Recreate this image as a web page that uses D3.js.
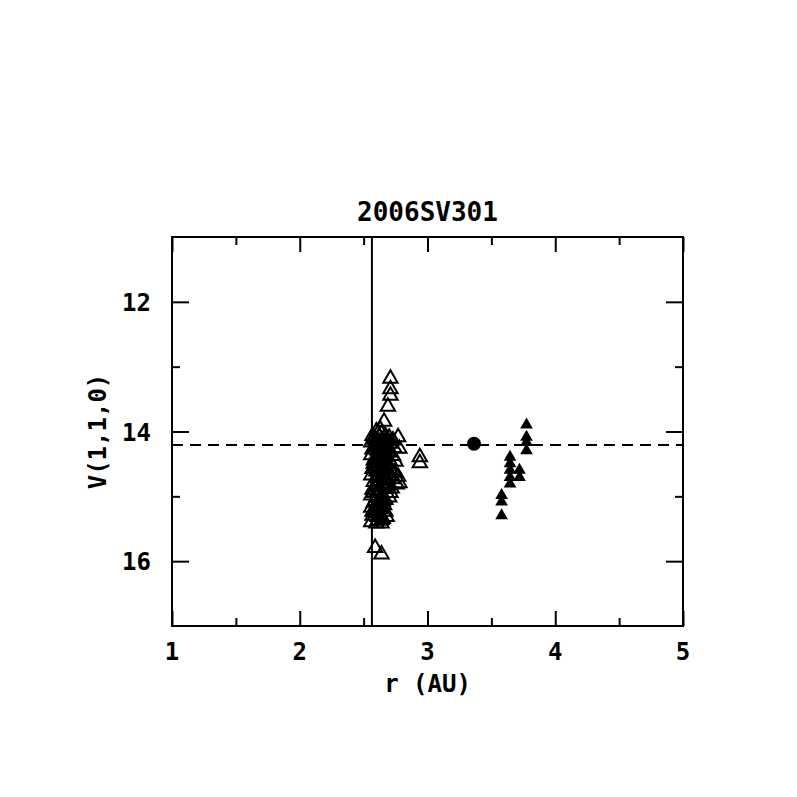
<!DOCTYPE html>
<html>
<head>
<meta charset="utf-8">
<script src="https://cdn.jsdelivr.net/npm/d3@7"></script>
<style>
  body { margin: 0; background: #fff; }
  svg text { font-family: "DejaVu Sans Mono", monospace; fill: #000; font-weight: bold; }
  .frame { fill: none; stroke: #000; stroke-width: 2; }
  .tick line { stroke: #000; stroke-width: 2; }
  .domain { display: none; }
</style>
</head>
<body>
<svg id="chart" width="797" height="797"></svg>
<script>
// data
var titleText = '2006SV301'
var xLabel = 'r (AU)'
var yLabel = 'V(1,1,0)'
var xMajor = [1, 2, 3, 4, 5]
var xMinor = [1.5, 2.5, 3.5, 4.5]
var yMajor = [12, 14, 16]
var yMinor = [13, 15]
var vLineR = 2.565
var hLineV = 14.21

// open triangles
var openR = [2.71, 2.71, 2.71, 2.69, 2.66, 2.77, 2.78, 2.94, 2.94, 2.77, 2.78, 2.59, 2.64,
  2.60, 2.63, 2.64, 2.57, 2.67, 2.70, 2.73,
  2.56, 2.59, 2.62, 2.65, 2.68, 2.71, 2.74, 2.57, 2.61, 2.66, 2.70,
  2.56, 2.59, 2.63, 2.67, 2.70, 2.73, 2.58, 2.62, 2.65, 2.69, 2.75,
  2.57, 2.60, 2.64, 2.68, 2.71, 2.56, 2.62, 2.66, 2.70, 2.74, 2.73,
  2.58, 2.61, 2.65, 2.69, 2.72, 2.57, 2.63, 2.67, 2.71, 2.76,
  2.56, 2.60, 2.64, 2.67, 2.70, 2.58, 2.62, 2.66,
  2.56, 2.59, 2.63, 2.67, 2.57, 2.61, 2.65, 2.56, 2.60, 2.64, 2.68,
  2.58, 2.62, 2.65, 2.68, 2.60, 2.63, 2.66, 2.69, 2.58, 2.61, 2.64, 2.67,
  2.59, 2.62, 2.65, 2.68, 2.60, 2.63, 2.66, 2.58, 2.61, 2.64, 2.59, 2.62,
  2.65, 2.60, 2.63, 2.57, 2.61, 2.64]
var openV = [13.17, 13.33, 13.43, 13.60, 13.83, 14.07, 14.25, 14.38, 14.47, 14.68, 14.78, 15.78, 15.88,
  13.98, 13.95, 14.02, 14.05, 14.05, 14.08, 14.12,
  14.15, 14.12, 14.18, 14.14, 14.20, 14.17, 14.24, 14.26, 14.28, 14.27, 14.30,
  14.35, 14.40, 14.33, 14.38, 14.42, 14.36, 14.48, 14.46, 14.50, 14.49, 14.45,
  14.56, 14.60, 14.57, 14.62, 14.58, 14.66, 14.68, 14.70, 14.66, 14.62, 14.72,
  14.76, 14.80, 14.78, 14.82, 14.86, 14.88, 14.90, 14.87, 14.93, 14.80,
  14.97, 15.00, 14.98, 15.04, 15.00, 15.08, 15.10, 15.12,
  15.16, 15.20, 15.18, 15.22, 15.28, 15.30, 15.33, 15.38, 15.40, 15.40, 15.30,
  14.09, 14.06, 14.21, 14.11, 14.23, 14.25, 14.34, 14.31, 14.43, 14.37, 14.41, 14.53,
  14.52, 14.61, 14.64, 14.74, 14.70, 14.74, 14.84, 14.93, 14.90, 15.02, 15.05, 15.14,
  15.06, 15.24, 15.27, 15.22, 15.36, 15.35]

// filled triangles
var filledR = [3.775, 3.775, 3.775, 3.775, 3.646, 3.646, 3.646, 3.646, 3.646, 3.72, 3.72, 3.58, 3.58, 3.58]
var filledV = [13.88, 14.07, 14.15, 14.28, 14.38, 14.48, 14.58, 14.69, 14.79, 14.58, 14.69, 14.97, 15.07, 15.28]

// filled circle
var dotR = [3.364]
var dotV = [14.19]

var svg = d3.select('#chart')
var plotLeft = 172, plotRight = 683, plotTop = 237, plotBottom = 626
var width = plotRight - plotLeft
var height = plotBottom - plotTop

var x = d3.scaleLinear().domain([1, 5]).range([plotLeft, plotRight])
var y = d3.scaleLinear().domain([11, 17]).range([plotTop, plotBottom])

// ticks, all pointing inwards
function addAxis(axis, tx, ty) {
  svg.append('g').attr('transform', `translate(${tx},${ty})`).call(axis)
}
addAxis(d3.axisBottom(x).tickValues(xMajor).tickSize(-15).tickFormat(''), 0, plotBottom)
addAxis(d3.axisBottom(x).tickValues(xMinor).tickSize(-8).tickFormat(''), 0, plotBottom)
addAxis(d3.axisTop(x).tickValues(xMajor).tickSize(-15).tickFormat(''), 0, plotTop)
addAxis(d3.axisTop(x).tickValues(xMinor).tickSize(-8).tickFormat(''), 0, plotTop)
addAxis(d3.axisLeft(y).tickValues(yMajor).tickSize(-17).tickFormat(''), plotLeft, 0)
addAxis(d3.axisLeft(y).tickValues(yMinor).tickSize(-8).tickFormat(''), plotLeft, 0)
addAxis(d3.axisRight(y).tickValues(yMajor).tickSize(-17).tickFormat(''), plotRight, 0)
addAxis(d3.axisRight(y).tickValues(yMinor).tickSize(-8).tickFormat(''), plotRight, 0)

svg.append('rect').attr('class', 'frame')
  .attr('x', plotLeft).attr('y', plotTop).attr('width', width).attr('height', height)

// tick labels
svg.selectAll('.xlab').data(xMajor).enter().append('text')
  .attr('x', d => x(d)).attr('y', 660)
  .attr('text-anchor', 'middle').attr('font-size', 24)
  .text(d => d)
svg.selectAll('.ylab').data(yMajor).enter().append('text')
  .attr('x', 151).attr('y', d => y(d) + 9)
  .attr('text-anchor', 'end').attr('font-size', 24)
  .text(d => d)

// reference lines
svg.append('line')
  .attr('x1', x(vLineR)).attr('x2', x(vLineR)).attr('y1', plotTop).attr('y2', plotBottom)
  .attr('stroke', '#000').attr('stroke-width', 2)
svg.append('line')
  .attr('x1', plotLeft).attr('x2', plotRight).attr('y1', y(hLineV)).attr('y2', y(hLineV))
  .attr('stroke', '#000').attr('stroke-width', 2).attr('stroke-dasharray', '11,7')

// points
var openPts = openR.map((r, i) => [r, openV[i]])
svg.append('g').selectAll('path').data(openPts).enter().append('path')
  .attr('transform', d => `translate(${x(d[0])},${y(d[1]) + 1})`)
  .attr('d', d3.symbol().type(d3.symbolTriangle).size(90))
  .attr('fill', 'none').attr('stroke', '#000').attr('stroke-width', 2)

var filledPts = filledR.map((r, i) => [r, filledV[i]])
svg.append('g').selectAll('path').data(filledPts).enter().append('path')
  .attr('transform', d => `translate(${x(d[0])},${y(d[1]) + 1})`)
  .attr('d', d3.symbol().type(d3.symbolTriangle).size(70))
  .attr('fill', '#000')

var dots = dotR.map((r, i) => [r, dotV[i]])
svg.append('g').selectAll('circle').data(dots).enter().append('circle')
  .attr('cx', d => x(d[0])).attr('cy', d => y(d[1])).attr('r', 7)
  .attr('fill', '#000')

// titles
svg.append('text')
  .attr('x', (plotLeft + plotRight) / 2).attr('y', 221)
  .attr('text-anchor', 'middle').attr('font-size', 26)
  .text(titleText)
svg.append('text')
  .attr('x', (plotLeft + plotRight) / 2).attr('y', 692)
  .attr('text-anchor', 'middle').attr('font-size', 24)
  .text(xLabel)
svg.append('text')
  .attr('transform', `translate(106, ${(plotTop + plotBottom) / 2}) rotate(-90)`)
  .attr('text-anchor', 'middle').attr('font-size', 24)
  .text(yLabel)
</script>
</body>
</html>
